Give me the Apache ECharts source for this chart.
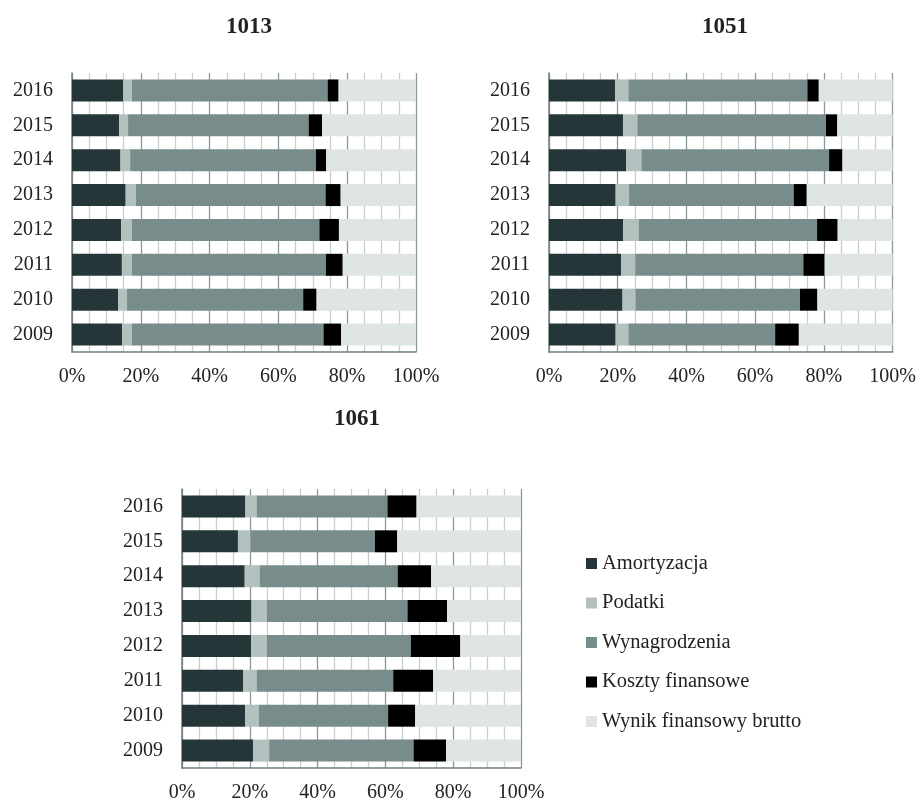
<!DOCTYPE html>
<html>
<head>
<meta charset="utf-8">
<script src="https://cdn.jsdelivr.net/npm/echarts@6/dist/echarts.min.js"></script>
<style>html,body{margin:0;padding:0;background:#fff;}#c{width:919px;height:803px;}</style>
</head>
<body>
<div id="c"></div>
<script>
const years = ['2009','2010','2011','2012','2013','2014','2015','2016'];
const seriesNames = ['Amortyzacja','Podatki','Wynagrodzenia','Koszty finansowe','Wynik finansowy brutto'];
const chartTitles = ['1013','1051','1061'];
const xTickLabels = ['0%','20%','40%','60%','80%','100%'];

// Chart 1013 (2009..2016)
const c1013_amort = [14.6, 13.4, 14.5, 14.3, 15.6, 14.1, 13.7, 14.9];
const c1013_pod   = [2.8, 2.6, 2.9, 3.1, 3.0, 2.8, 2.6, 2.5];
const c1013_wyn   = [55.7, 51.2, 56.4, 54.5, 55.1, 54.0, 52.5, 56.9];
const c1013_kosz  = [5.1, 3.9, 4.9, 5.7, 4.4, 3.0, 3.9, 3.2];
const c1013_wynik = [21.8, 28.9, 21.3, 22.4, 21.9, 26.1, 27.3, 22.5];

// Chart 1051
const c1051_amort = [19.4, 21.4, 21.0, 21.6, 19.4, 22.5, 21.6, 19.2];
const c1051_pod   = [3.7, 3.8, 4.1, 4.5, 3.9, 4.4, 4.1, 3.9];
const c1051_wyn   = [42.7, 47.8, 48.9, 51.9, 47.9, 54.6, 54.9, 52.1];
const c1051_kosz  = [6.9, 5.1, 6.2, 6.0, 3.8, 3.9, 3.3, 3.3];
const c1051_wynik = [27.3, 21.9, 19.8, 16.0, 25.0, 14.6, 16.1, 21.5];

// Chart 1061
const c1061_amort = [21.0, 18.6, 18.0, 20.4, 20.5, 18.5, 16.5, 18.7];
const c1061_pod   = [4.7, 4.1, 4.0, 4.6, 4.5, 4.4, 3.7, 3.3];
const c1061_wyn   = [42.6, 38.1, 40.3, 42.5, 41.5, 40.7, 36.7, 38.6];
const c1061_kosz  = [9.6, 8.0, 11.8, 14.6, 11.7, 9.9, 6.6, 8.6];
const c1061_wynik = [22.1, 31.2, 25.9, 17.9, 21.8, 26.5, 36.5, 30.8];

const chartData = [
  [c1013_amort, c1013_pod, c1013_wyn, c1013_kosz, c1013_wynik],
  [c1051_amort, c1051_pod, c1051_wyn, c1051_kosz, c1051_wynik],
  [c1061_amort, c1061_pod, c1061_wyn, c1061_kosz, c1061_wynik]
];

const colors = ['#253639', '#b2c0be', '#798c8c', '#000000', '#dfe5e3'];
const FONT = 'Liberation Serif';

const grids = [
  {left: 72, width: 344, top: 73, height: 279},
  {left: 549, width: 344, top: 73, height: 279},
  {left: 182, width: 339, top: 489, height: 279}
];
const titlePos = [
  {left: 244, top: 11},
  {left: 720, top: 11},
  {left: 352, top: 403}
];

const option = {
  animation: false,
  backgroundColor: '#ffffff',
  color: colors,
  title: chartTitles.map((t, i) => ({
    text: t, left: titlePos[i].left, top: titlePos[i].top, textAlign: 'center',
    textStyle: {fontFamily: FONT, fontSize: 23, fontWeight: 'bold', color: '#222'}
  })),
  legend: {
    orient: 'vertical', left: 581, top: 548,
    itemWidth: 11, itemHeight: 11, itemGap: 18.5, icon: 'rect',
    data: seriesNames,
    textStyle: {fontFamily: FONT, fontSize: 20.5, color: '#222'}
  },
  grid: grids.map(g => Object.assign({containLabel: false}, g)),
  xAxis: grids.map((g, i) => ({
    type: 'value', gridIndex: i, min: 0, max: 100, interval: 20,
    axisLine: {show: true, lineStyle: {color: '#6e8080', width: 1.5}},
    axisTick: {show: false},
    axisLabel: {formatter: v => xTickLabels[v / 20], fontFamily: FONT, fontSize: 20, color: '#222', margin: 15},
    splitLine: {show: true, lineStyle: {color: '#8a9a9a', width: 1.3}},
    minorTick: {show: false, splitNumber: 4},
    minorSplitLine: {show: true, lineStyle: {color: '#c6d0d0', width: 1.3}}
  })),
  yAxis: grids.map((g, i) => ({
    type: 'category', gridIndex: i, data: years,
    axisLine: {show: true, lineStyle: {color: '#6e8080', width: 1.5}},
    axisTick: {show: false},
    axisLabel: {fontFamily: FONT, fontSize: 20, color: '#222', margin: 19}
  })),
  series: []
};

chartData.forEach((arrs, ci) => {
  arrs.forEach((vals, si) => {
    option.series.push({
      name: seriesNames[si], type: 'bar', stack: 'c' + ci,
      xAxisIndex: ci, yAxisIndex: ci,
      barWidth: 22, data: vals,
      itemStyle: {color: colors[si]}
    });
  });
});

const chart = echarts.init(document.getElementById('c'), null, {renderer: 'canvas'});
chart.setOption(option);
</script>
</body>
</html>
